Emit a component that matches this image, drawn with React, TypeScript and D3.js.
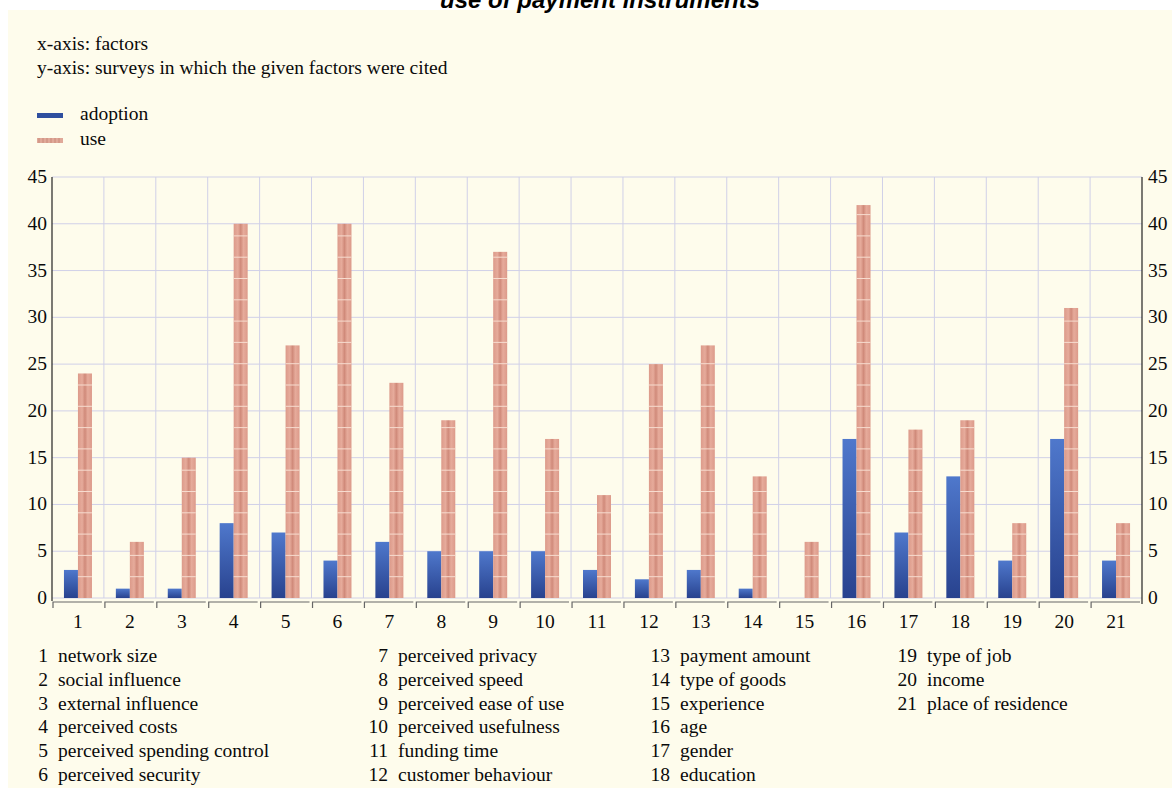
import React from "react";
import { scaleBand, scaleLinear, range } from "d3";

// factors 1..21
const factors = [
  "network size",
  "social influence",
  "external influence",
  "perceived costs",
  "perceived spending control",
  "perceived security",
  "perceived privacy",
  "perceived speed",
  "perceived ease of use",
  "perceived usefulness",
  "funding time",
  "customer behaviour",
  "payment amount",
  "type of goods",
  "experience",
  "age",
  "gender",
  "education",
  "type of job",
  "income",
  "place of residence"
];

const adoption = [3, 1, 1, 8, 7, 4, 6, 5, 5, 5, 3, 2, 3, 1, 0, 17, 7, 13, 4, 17, 4];
const use = [24, 6, 15, 40, 27, 40, 23, 19, 37, 17, 11, 25, 27, 13, 6, 42, 18, 19, 8, 31, 8];

const yTicks = [0, 5, 10, 15, 20, 25, 30, 35, 40, 45];

const title = "use of payment instruments";
const notes = ["x-axis: factors", "y-axis: surveys in which the given factors were cited"];
const seriesNames = ["adoption", "use"];

const W = 1172;
const H = 788;
const LEFT = 52;
const RIGHT = 1142;
const TOP = 177;
const BOTTOM = 598;

const serif = "'Liberation Serif', 'Times New Roman', serif";
const FS = 19.5;
const INK = "#0a0a0a";

export default function App() {
  const ids = factors.map((_, i) => String(i + 1));
  const x = scaleBand<string>().domain(ids).range([LEFT, RIGHT]);
  const y = scaleLinear().domain([0, 45]).range([BOTTOM, TOP]);
  const bw = 14;
  const stripeStep = 21.3;

  // legend columns for factor names
  const colNumX = [48, 388, 670, 917];
  const rowY0 = 662;
  const rowStep = 23.8;

  return (
    <svg width={W} height={H} style={{ position: "absolute", left: 0, top: 0 }}>
      <defs>
        <linearGradient id="blueGrad" x1="0" y1="0" x2="0" y2="1">
          <stop offset="0%" stopColor="#4f78cc" />
          <stop offset="100%" stopColor="#28428e" />
        </linearGradient>
        <linearGradient id="pinkGrad" x1="0" y1="0" x2="1" y2="0">
          <stop offset="0%" stopColor="#dc9a8a" />
          <stop offset="30%" stopColor="#e6ab9b" />
          <stop offset="50%" stopColor="#d08a7a" />
          <stop offset="70%" stopColor="#e6ab9b" />
          <stop offset="100%" stopColor="#dc9a8a" />
        </linearGradient>
      </defs>
      <rect x={0} y={0} width={W} height={H} fill="#ffffff" />
      <rect x={8} y={10} width={W - 8} height={H - 10} fill="#fefcec" />

      <text
        x={600}
        y={8}
        textAnchor="middle"
        fontFamily="'Liberation Sans', Arial, sans-serif"
        fontWeight="bold"
        fontStyle="italic"
        fontSize={24}
        fill="#000"
      >
        {title}
      </text>

      {notes.map((n, i) => (
        <text key={n} x={37} y={50 + i * 24} fontFamily={serif} fontSize={FS} fill={INK}>
          {n}
        </text>
      ))}

      {/* series legend */}
      <rect x={37} y={113} width={26} height={5} fill="#2f4f9f" />
      <text x={80} y={120} fontFamily={serif} fontSize={FS} fill={INK}>
        {seriesNames[0]}
      </text>
      <rect x={37} y={138} width={26} height={5} fill="#e0a999" />
      {range(6).map(k => (
        <line key={k} x1={39 + k * 4} x2={39 + k * 4} y1={138} y2={143} stroke="#c98a7b" strokeWidth={1} />
      ))}
      <text x={80} y={145} fontFamily={serif} fontSize={FS} fill={INK}>
        {seriesNames[1]}
      </text>

      {/* grid */}
      <g stroke="#d0d0e8" strokeWidth={1}>
        {yTicks.map(t => (
          <line key={t} x1={LEFT} x2={RIGHT} y1={y(t)} y2={y(t)} />
        ))}
        {ids.slice(1).map(id => (
          <line key={id} x1={x(id)} x2={x(id)} y1={TOP} y2={BOTTOM} />
        ))}
      </g>

      {/* bars */}
      {ids.map((id, i) => {
        const cx = x(id)! + x.bandwidth() / 2;
        const a = adoption[i];
        const u = use[i];
        const lines = range(1, 30)
          .map(k => BOTTOM - k * stripeStep)
          .filter(v => v > y(u) + 3);
        return (
          <g key={id}>
            {a > 0 && (
              <rect x={cx - bw} y={y(a)} width={bw} height={BOTTOM - y(a)} fill="url(#blueGrad)" />
            )}
            {u > 0 && (
              <g>
                <rect x={cx} y={y(u)} width={bw} height={BOTTOM - y(u)} fill="url(#pinkGrad)" />
                {lines.map(v => (
                  <line key={v} x1={cx} x2={cx + bw} y1={v} y2={v} stroke="#f7dccf" strokeWidth={1} />
                ))}
              </g>
            )}
          </g>
        );
      })}

      {/* left axis */}
      <line x1={LEFT} x2={LEFT} y1={TOP} y2={BOTTOM + 3} stroke="#222" strokeWidth={1.2} />
      {yTicks.map(t => (
        <text
          key={t}
          x={47}
          y={y(t) + 6}
          textAnchor="end"
          fontFamily={serif}
          fontSize={FS}
          fill={INK}
        >
          {t}
        </text>
      ))}

      {/* right axis */}
      <line x1={RIGHT} x2={RIGHT} y1={TOP} y2={BOTTOM + 6} stroke="#222" strokeWidth={1.2} />
      {yTicks.map(t => (
        <text key={t} x={1148} y={y(t) + 6} fontFamily={serif} fontSize={FS} fill={INK}>
          {t}
        </text>
      ))}

      {/* x axis */}
      {ids.map(id => {
        const x0 = x(id)!;
        const x1 = x0 + x.bandwidth();
        return (
          <g key={id}>
            <path
              d={`M${x0 + 1},${BOTTOM + 10} V${BOTTOM + 4} H${x1 - 2}`}
              fill="none"
              stroke="#666"
              strokeWidth={1.2}
            />
            <text
              x={x0 + x.bandwidth() / 2}
              y={628}
              textAnchor="middle"
              fontFamily={serif}
              fontSize={FS}
              fill={INK}
            >
              {id}
            </text>
          </g>
        );
      })}

      {/* factor key */}
      {factors.map((f, i) => {
        const col = Math.floor(i / 6);
        const row = i % 6;
        const yy = rowY0 + row * rowStep;
        return (
          <g key={f}>
            <text x={colNumX[col]} y={yy} textAnchor="end" fontFamily={serif} fontSize={FS} fill={INK}>
              {i + 1}
            </text>
            <text x={colNumX[col] + 10} y={yy} fontFamily={serif} fontSize={FS} fill={INK}>
              {f}
            </text>
          </g>
        );
      })}
    </svg>
  );
}
